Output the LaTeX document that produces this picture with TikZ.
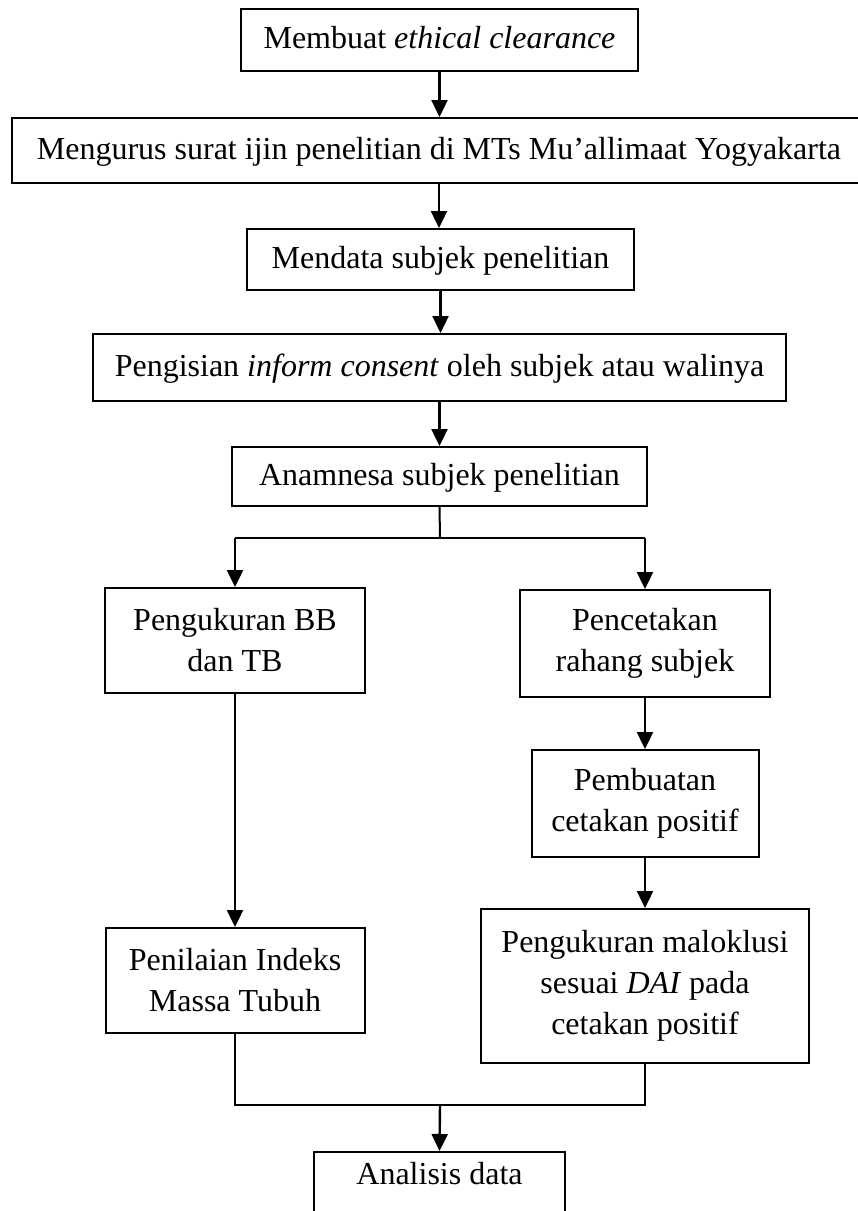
\documentclass[tikz,border=0pt]{standalone}
\usepackage{fontspec}
\setmainfont{Liberation Serif}
\usetikzlibrary{arrows.meta}
\tikzset{
  box/.style={draw, line width=2pt, inner sep=0pt, align=center,
    font=\fontsize{32}{41}\selectfont},
  one/.style={text height=20pt, text depth=3pt},
  arr/.style={line width=2.4pt, -{Triangle[length=17pt,width=16pt]}},
  ln/.style={line width=2pt}
}
\begin{document}
\begin{tikzpicture}[x=1pt,y=-1pt]
\useasboundingbox (0,0) rectangle (858,1211);
\node[box,one,minimum width=397pt,minimum height=62pt] (b1) at (439.5,40) {Membuat \textit{ethical clearance}};
\node[box,one,minimum width=854pt,minimum height=65pt] (b2) at (439,150.5) {Mengurus surat ijin penelitian di MTs Mu’allimaat Yogyakarta};
\node[box,one,minimum width=387pt,minimum height=61pt] (b3) at (440.5,259.5) {Mendata subjek penelitian};
\node[box,one,minimum width=693pt,minimum height=67pt] (b4) at (439.5,367.5) {Pengisian \textit{inform consent} oleh subjek atau walinya};
\node[box,one,minimum width=415pt,minimum height=59pt] (b5) at (439.5,476.5) {Anamnesa subjek penelitian};
\node[box,minimum width=260pt,minimum height=105pt] (b6) at (235,640.5) {Pengukuran BB\\dan TB};
\node[box,minimum width=250pt,minimum height=107pt] (b7) at (645,643.5) {Pencetakan\\rahang subjek};
\node[box,minimum width=259pt,minimum height=105pt] (b8) at (235,980.5) {Penilaian Indeks\\Massa Tubuh};
\node[box,minimum width=227pt,minimum height=107pt] (b9) at (645,803.5) {Pembuatan\\cetakan positif};
\node[box,minimum width=328pt,minimum height=154pt] (b10) at (645,986) {Pengukuran maloklusi\\sesuai \textit{DAI} pada\\cetakan positif};
\node[box,text height=21pt,text depth=19pt,minimum width=251pt,minimum height=62pt] (b11) at (439.5,1183) {Analisis data};
\coordinate (split) at (440,537.5);
\coordinate (join) at (440,1105);
\draw[arr] (b1.south) -- (b1.south |- b2.north);
\draw[arr] (b2.south) -- (b2.south |- b3.north);
\draw[arr] (b3.south) -- (b3.south |- b4.north);
\draw[arr] (b4.south) -- (b4.south |- b5.north);
\draw[ln] (b5.south) -- (split);
\draw[ln] (split -| b6.north) -- (split -| b7.north);
\draw[arr] (split -| b6.north) -- (b6.north);
\draw[arr] (split -| b7.north) -- (b7.north);
\draw[arr] (b6.south) -- (b8.north);
\draw[arr] (b7.south) -- (b9.north);
\draw[arr] (b9.south) -- (b10.north);
\draw[ln] (b8.south) |- (join);
\draw[ln] (b10.south) |- (join);
\draw[arr] (join) -- (b11.north);
\end{tikzpicture}
\end{document}
